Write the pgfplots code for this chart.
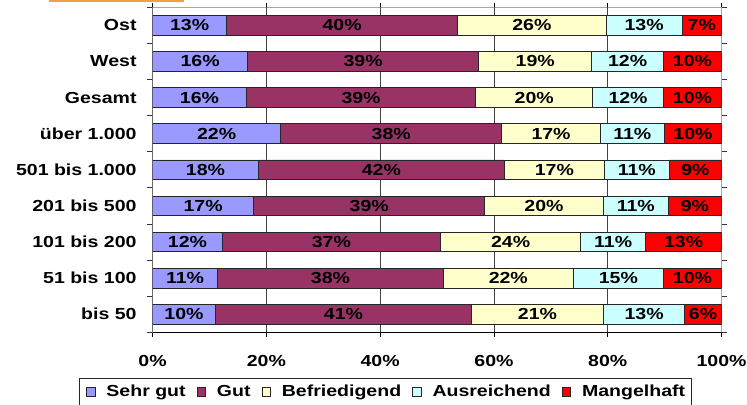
\documentclass[border=0pt]{standalone}
\usepackage{fontspec}
\setmainfont{Liberation Sans}[FakeStretch=1.22, UprightFont=* Bold, BoldFont=* Bold]
\usepackage{pgfplots}
\usepackage{pgfplotstable}
\pgfplotsset{compat=1.18}

\definecolor{sehrgut}{HTML}{9999FF}
\definecolor{gut}{HTML}{993366}
\definecolor{befr}{HTML}{FFFFCC}
\definecolor{ausr}{HTML}{CCFFFF}
\definecolor{mangel}{HTML}{FF0000}
\definecolor{topbar}{HTML}{F5A040}

\newcommand{\ff}{\fontsize{12}{14.4}\selectfont}

% bar lengths as drawn, labels as printed
\pgfplotstableread{
idx a     b     c     d     e     la lb lc ld le
0   11.06 45.00 23.20 14.26 6.48  10 41 21 13 6
1   11.45 39.65 22.85 15.85 10.20 11 38 22 15 10
2   12.27 38.33 24.65 11.42 13.33 12 37 24 11 13
3   17.78 40.60 20.82 11.45 9.35  17 39 20 11 9
4   18.60 43.23 17.57 11.40 9.20  18 42 17 11 9
5   22.53 38.84 17.33 11.25 10.05 22 38 17 11 10
6   16.49 40.31 20.55 12.45 10.20 16 39 20 12 10
7   16.73 40.57 19.90 12.60 10.20 16 39 19 12 10
8   13.04 40.56 26.15 13.31 6.94  13 40 26 13 7
}\data

\pgfplotsset{frame/.style={
    at={(114.4pt,-249.2pt)}, anchor=south west,
    scale only axis,
    width=426.75pt, height=243.75pt,
    xmin=0, xmax=100,
    ymin=-0.5, ymax=8.5}}

\newcommand{\seg}[2]{%
  \addplot[fill=#2, draw=black!85, line width=0.6pt] table[x=#1, y=idx] {\data};}

% label in the middle of its segment
\newcommand{\lbl}[2]{%
  \addplot[only marks, mark=none, point meta=explicit symbolic,
    nodes near coords={\pgfplotspointmeta\%},
    nodes near coords style={anchor=center, font=\ff, text=black, inner sep=0pt}]
    table[x expr={#1}, y=idx, meta=#2] {\data};}

\begin{document}
\begin{tikzpicture}
\useasboundingbox (0,0) rectangle (560.25pt,-303pt);
\fill[topbar] (36.75pt,0) rectangle (138pt,-1.3pt);
\begin{axis}[
    frame,
    xbar stacked,
    bar width=14.8pt,
    xtick={0,20,...,100},
    xticklabels={0\%,20\%,40\%,60\%,80\%,100\%},
    extra x ticks={20,40,60,80},
    extra x tick labels={},
    extra x tick style={grid=major, major tick length=0pt},
    grid style={black!75, line width=0.6pt},
    ytick={0,...,8},
    yticklabels={bis 50, 51 bis 100, 101 bis 200, 201 bis 500, 501 bis 1.000, über 1.000, Gesamt, West, Ost},
    ytick style={draw=none},
    minor ytick={-0.5,0.5,...,8.5},
    minor y tick style={draw=black!80, line width=0.6pt},
    minor tick length=4.3pt,
    major tick length=3.2pt,
    xtick style={draw=black, line width=0.6pt},
    tick align=outside,
    axis line style={gray!70, line width=0.75pt},
    tick label style={font=\ff, text=black},
    yticklabel style={anchor=east, inner sep=0pt},
    yticklabel shift=8.6pt,
    xticklabel style={anchor=base, inner sep=0pt, yshift=-22.8pt},
    legend columns=-1,
    legend style={at={(-0.1292,-0.1415)}, anchor=north west,
      draw=black!85, line width=0.75pt, font=\ff,
      inner xsep=5pt, inner ysep=4.8pt,
      nodes={inner sep=0pt},
      /tikz/every odd column/.style={column sep=8.2pt},
      /tikz/every even column/.style={column sep=8.3pt}},
    legend image code/.code={\draw[#1, draw=black!85, line width=0.6pt] (0pt,-3pt) rectangle (6.4pt,3.4pt);},
]
\seg{a}{sehrgut}
\seg{b}{gut}
\seg{c}{befr}
\seg{d}{ausr}
\seg{e}{mangel}
\draw[black, line width=0.75pt] (axis description cs:0,1) -- (axis description cs:0,0) -- (axis description cs:1,0);
\legend{Sehr gut, Gut, Befriedigend, Ausreichend, Mangelhaft}
\end{axis}
\begin{axis}[frame, hide axis, clip=false]
\lbl{\thisrow{a}/2}{la}
\lbl{\thisrow{a}+\thisrow{b}/2}{lb}
\lbl{\thisrow{a}+\thisrow{b}+\thisrow{c}/2}{lc}
\lbl{\thisrow{a}+\thisrow{b}+\thisrow{c}+\thisrow{d}/2}{ld}
\lbl{\thisrow{a}+\thisrow{b}+\thisrow{c}+\thisrow{d}+\thisrow{e}/2}{le}
\end{axis}
\end{tikzpicture}
\end{document}
